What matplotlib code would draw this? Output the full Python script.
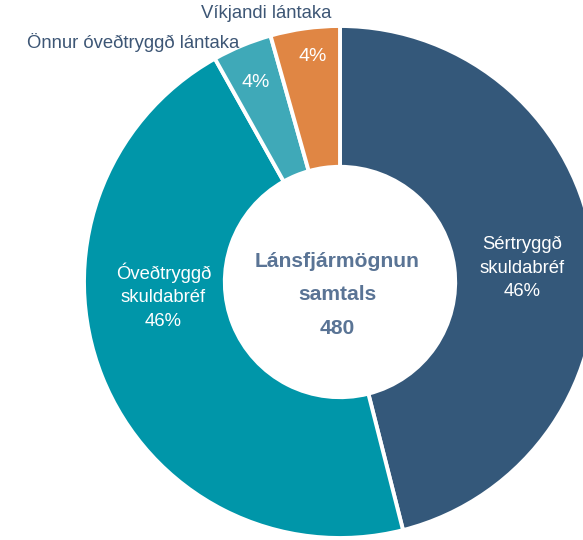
import matplotlib
matplotlib.use("Agg")
import matplotlib.pyplot as plt

plt.rcParams["font.family"] = ["Liberation Sans", "DejaVu Sans"]

# wedge sizes (total 480), labels as printed
categories = ["Sértryggð\nskuldabréf", "Óveðtryggð\nskuldabréf",
              "Önnur óveðtryggð lántaka", "Víkjandi lántaka"]
values = [221, 220, 18, 21]
pct_labels = ["46%", "46%", "4%", "4%"]
colors = ["#34587A", "#0096A9", "#3FA9B8", "#E08644"]
total_label = "Lánsfjármögnun\nsamtals\n480"

fig = plt.figure(figsize=(5.83, 5.40), dpi=100)
ax = fig.add_axes([0, 0, 1, 1])

wedges, _ = ax.pie(
    values,
    colors=colors,
    startangle=90,
    counterclock=False,
    radius=1.0,
    wedgeprops=dict(width=0.55, edgecolor="white", linewidth=2.8),
)

# centre at pixel (340, 282), radius ~256 px
scale = 256
ax.set_aspect("auto")
ax.set_xlim(-340 / scale, (583 - 340) / scale)
ax.set_ylim(-(540 - 282) / scale, 282 / scale)
ax.axis("off")

white = "white"
label_color = "#3D5675"

# big slices: name + percent inside
ax.text(0.71, 0.055, f"{categories[0]}\n{pct_labels[0]}", ha="center", va="center",
        color=white, fontsize=13.3, linespacing=1.5)
ax.text(-0.69, -0.055, f"{categories[1]}\n{pct_labels[1]}", ha="center", va="center",
        color=white, fontsize=13.3, linespacing=1.5)

# small slices: percent inside, name outside
ax.text(-0.328, 0.78, pct_labels[2], ha="center", va="center", color=white, fontsize=14)
ax.text(-0.105, 0.879, pct_labels[3], ha="center", va="center", color=white, fontsize=14)
ax.text(-0.807, 0.9375, categories[2], ha="center", va="center", color=label_color, fontsize=13.3)
ax.text(-0.29, 1.05, categories[3], ha="center", va="center", color=label_color, fontsize=13.3)

ax.text(-0.01, -0.05, total_label, ha="center", va="center", color="#5A7495",
        fontsize=15.2, fontweight="bold", linespacing=1.95)

fig.savefig("out.png", dpi=100, facecolor="white")
plt.close(fig)
